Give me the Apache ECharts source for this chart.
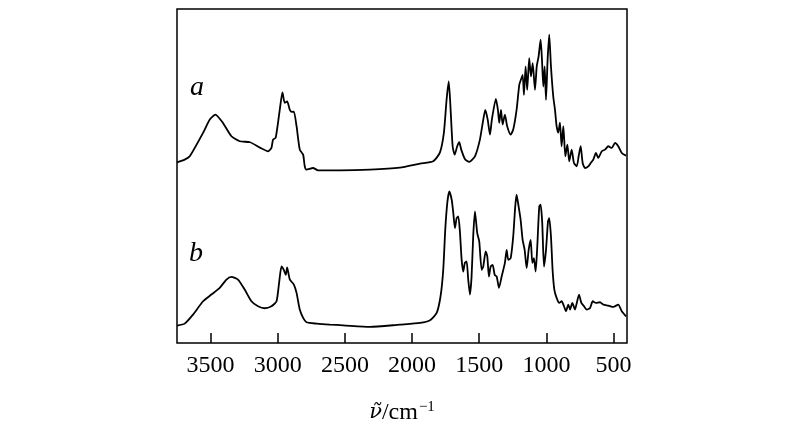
<!DOCTYPE html>
<html>
<head>
<meta charset="utf-8">
<script src="https://cdn.jsdelivr.net/npm/echarts@6/dist/echarts.min.js"></script>
<style>
html,body{margin:0;padding:0;background:#fff;}
#chart{width:800px;height:442px;}
</style>
</head>
<body>
<div id="chart"></div>
<script>
// wavenumber ticks (cm^-1)
const tickValues = [3500, 3000, 2500, 2000, 1500, 1000, 500];
const curveLabels = ['a', 'b'];

// Spectrum a: wavenumber / relative intensity (arbitrary units, offset)
const waveA = [3750,3693,3655,3556,3506,3464,3410,3345,3283,3206,3133,3072,3047,3035,3015,2985,2965,2948,2930,2910,2895,2880,2860,2836,2811,2799,2786,2737,2700,2538,2314,2091,1941,1843,1793,1763,1743,1727,1713,1698,1683,1664,1649,1634,1607,1575,1532,1495,1470,1455,1437,1420,1406,1376,1361,1351,1338,1326,1309,1292,1266,1247,1222,1202,1190,1177,1167,1155,1143,1128,1115,1102,1085,1072,1058,1043,1033,1023,1013,1003,991,979,966,949,936,924,912,899,887,874,859,844,830,812,795,774,760,745,730,713,688,670,651,631,614,588,564,539,514,489,465,439,407];
const valA = [54.1,54.9,55.9,62.9,66.9,68.4,66.0,61.9,60.4,60.1,58.5,57.4,58.4,60.9,61.5,69.8,75.0,71.9,72.3,69.8,69.2,69.3,64.9,57.9,56.4,52.9,51.9,52.4,51.7,51.7,51.9,52.5,53.7,54.4,57.0,63.0,72.9,78.3,69.8,58.9,56.4,58.9,60.1,57.9,55.1,54.2,55.9,60.9,66.9,69.8,66.9,62.4,66.9,73.1,69.8,65.9,69.8,65.4,68.4,64.9,62.4,63.9,69.8,77.3,78.8,80.3,74.3,82.8,75.8,85.3,79.8,83.8,75.8,82.8,85.8,90.8,84.8,76.8,82.8,72.8,84.8,92.3,82.8,73.8,69.8,64.9,63.0,66.0,58.9,64.9,55.9,59.4,54.4,57.9,53.9,52.9,55.9,58.9,53.9,52.4,52.9,53.9,54.9,56.9,55.4,57.4,57.9,58.9,58.4,59.9,58.9,56.9,56.1];

// Spectrum b
const waveB = [3750,3693,3631,3556,3494,3432,3382,3345,3296,3246,3196,3147,3097,3047,3009,2990,2972,2955,2940,2930,2910,2880,2860,2836,2811,2786,2711,2612,2513,2314,2091,1941,1866,1817,1788,1768,1753,1738,1723,1705,1693,1681,1668,1656,1644,1631,1619,1607,1594,1582,1569,1557,1545,1532,1515,1500,1482,1470,1452,1440,1428,1415,1400,1385,1370,1353,1333,1309,1296,1284,1266,1247,1232,1222,1207,1192,1177,1162,1147,1132,1117,1105,1093,1080,1068,1053,1043,1031,1018,1003,988,979,966,954,941,924,904,887,869,854,837,824,807,787,774,757,740,720,700,675,655,631,601,576,539,502,465,439,407];
const valB = [5.2,5.8,8.5,12.5,14.5,16.5,19.0,19.8,19.0,16.0,12.5,11.0,10.4,11.0,12.5,18.0,22.9,21.9,20.4,22.6,19.0,17.5,15.0,10.0,7.5,6.2,5.8,5.5,5.3,4.8,5.5,6.0,6.8,9.0,14.0,21.9,33.9,41.9,45.4,42.9,38.9,34.4,37.4,37.9,33.4,24.9,21.4,24.0,24.4,19.0,14.5,19.9,31.9,39.4,32.9,30.4,21.9,22.9,27.4,25.9,19.9,22.9,23.4,20.4,19.9,16.5,19.9,24.0,27.9,24.9,25.4,31.9,40.9,44.4,40.9,36.9,30.9,27.9,22.4,27.9,30.9,24.0,25.4,21.4,28.9,40.9,41.4,35.9,22.9,27.9,36.4,37.4,31.9,21.9,16.0,13.5,12.0,12.5,11.0,9.5,11.5,10.0,12.0,10.0,12.0,14.5,12.0,11.0,10.0,10.5,12.5,12.0,12.2,11.5,11.2,10.8,11.5,9.5,8.0];

const zip = (xs, ys) => xs.map((x, i) => [x, ys[i]]);
const serif = '"Liberation Serif", "DejaVu Serif", serif';

const chart = echarts.init(document.getElementById('chart'));
chart.setOption({
  animation: false,
  backgroundColor: '#fff',
  grid: {left: 177, right: 173, top: 9, bottom: 99, show: true, borderColor: '#000', borderWidth: 1.5, backgroundColor: 'transparent'},
  xAxis: {
    type: 'value', inverse: true, min: 400, max: 3750,
    axisLine: {show: false},
    splitLine: {show: false},
    axisTick: {show: true, inside: true, length: 10, customValues: tickValues, lineStyle: {color: '#000', width: 1.5}},
    axisLabel: {customValues: tickValues, formatter: v => String(v), color: '#000', fontFamily: serif, fontSize: 24, margin: 11},
    name: '{i|ν̃}{n|/cm}{s|−1}',
    nameLocation: 'middle', nameGap: 57,
    nameTextStyle: {
      color: '#000', fontFamily: serif, fontSize: 24,
      rich: {
        i: {fontFamily: '"DejaVu Serif", serif', fontStyle: 'italic', fontSize: 21, color: '#000'},
        n: {fontFamily: serif, fontSize: 24, color: '#000'},
        s: {fontFamily: serif, fontSize: 15, color: '#000', verticalAlign: 'top', padding: [0,0,10,1]}
      }
    }
  },
  yAxis: {type: 'value', min: 0, max: 100, show: false},
  graphic: [
    {type: 'text', left: 190, top: 74, style: {text: curveLabels[0], font: 'italic 28px ' + serif, fill: '#000'}},
    {type: 'text', left: 189, top: 240, style: {text: curveLabels[1], font: 'italic 28px ' + serif, fill: '#000'}}
  ],
  series: [
    {type: 'line', data: zip(waveA, valA), showSymbol: false, lineStyle: {color: '#000', width: 1.8}, smooth: 0.2},
    {type: 'line', data: zip(waveB, valB), showSymbol: false, lineStyle: {color: '#000', width: 1.8}, smooth: 0.2}
  ]
});
</script>
</body>
</html>
